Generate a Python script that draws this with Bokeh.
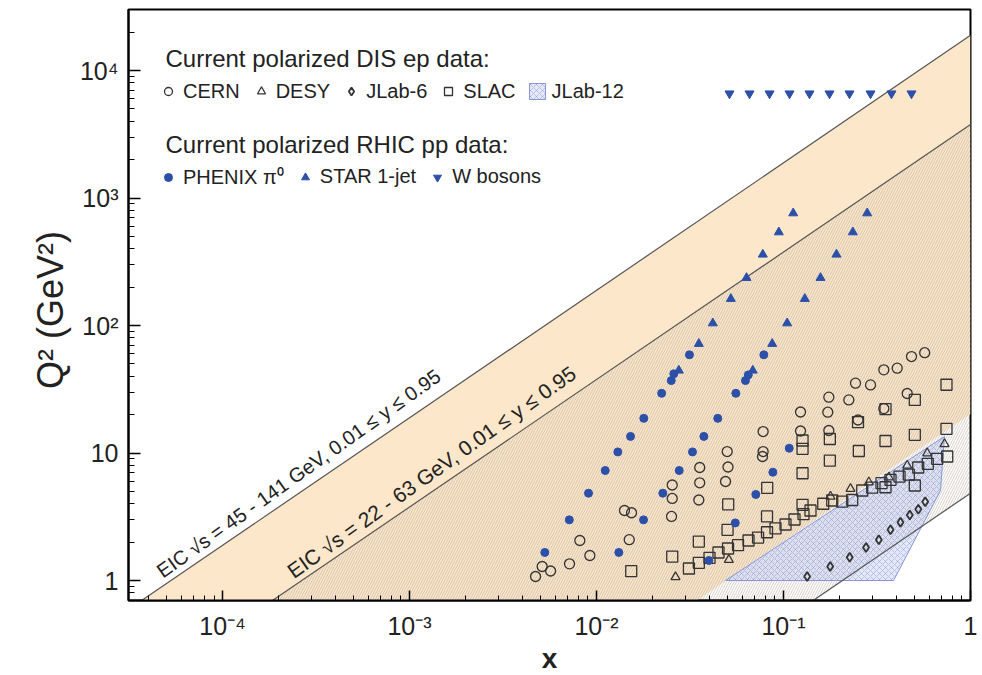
import math
from bokeh.plotting import figure
from bokeh.models import Label, Legend, LegendItem, FixedTicker, CustomJSTickFormatter
from bokeh.embed import file_html
from bokeh.resources import INLINE

FONT = "Liberation Sans"

# ---- EIC kinematic reach: sqrt(s) ranges and inelasticity limits ----
eic_high_sqrt_s = [45, 141]
eic_low_sqrt_s = [22, 63]
y_limits = [0.01, 0.95]

# ---- Current polarized DIS ep data ----
cern_x = [0.00472, 0.00512, 0.00568, 0.00717, 0.00814, 0.00921, 0.01411, 0.01539, 0.01496,
          0.02518, 0.0254, 0.0254, 0.03524, 0.03563, 0.03563, 0.04896, 0.05048, 0.04998,
          0.0778, 0.0772, 0.0778, 0.1233, 0.1233, 0.1747, 0.1725, 0.1747, 0.2235, 0.2503,
          0.2427, 0.292, 0.3439, 0.3439, 0.4055, 0.4586, 0.4836, 0.5689]
cern_q2 = [1.075, 1.288, 1.187, 1.352, 2.06, 1.571, 3.54, 3.40, 2.09,
           3.18, 4.40, 5.61, 4.28, 5.84, 7.70, 5.98, 7.77, 10.27,
           10.27, 9.39, 14.74, 14.88, 20.97, 15.02, 20.89, 27.4, 26.1, 18.15,
           35.3, 34.2, 44.9, 22.3, 46.3, 29.3, 57.1, 61.2]

slac_x = [0.744, 0.5037, 0.3511, 0.2503, 0.1769, 0.1264, 0.744, 0.5037, 0.3511, 0.2528,
          0.1769, 0.1264, 0.1264, 0.0818, 0.0506, 0.0816, 0.0502, 0.03524, 0.0254, 0.01533,
          0.5037, 0.3511, 0.1264,
          0.0312, 0.03524, 0.0402, 0.0449, 0.0505, 0.0571, 0.065, 0.0731, 0.0816, 0.0906,
          0.1025, 0.1145, 0.1279, 0.1394, 0.1631, 0.1822, 0.2061, 0.233, 0.2636, 0.298,
          0.3342, 0.3734, 0.4173, 0.4678, 0.5254, 0.591, 0.6637, 0.7508]
slac_q2 = [34.3, 26.1, 22.1, 17.5, 12.88, 12.53, 15.48, 13.89, 12.42, 10.37,
           8.73, 10.79, 6.94, 5.32, 3.95, 3.18, 2.50, 2.02, 1.542, 1.183,
           5.56, 5.39, 3.92,
           1.242, 1.377, 1.507, 1.658, 1.782, 1.898, 2.06, 2.17, 2.39, 2.56,
           2.75, 3.01, 3.32, 3.54, 4.00, 4.24, 4.16, 4.28, 5.08, 5.36,
           5.80, 6.16, 6.54, 6.78, 7.70, 8.23, 9.01, 9.39]

desy_x = [0.02645, 0.0510, 0.1784, 0.2282, 0.2859, 0.3657, 0.4586, 0.5867, 0.7261]
desy_q2 = [1.065, 1.453, 4.56, 5.24, 5.90, 6.46, 7.98, 9.96, 11.77]

jlab6_x = [0.1338, 0.1777, 0.2259, 0.2762, 0.3233, 0.3734, 0.4222, 0.4735, 0.5259, 0.5725]
jlab6_q2 = [1.075, 1.288, 1.523, 1.815, 2.09, 2.50, 2.87, 3.26, 3.62, 4.15]

jlab12_x = [0.049, 0.388, 0.691, 0.726]
jlab12_q2 = [1.0, 1.0, 5.08, 13.5]

# ---- Current polarized RHIC pp data ----
phenix_x = [0.00529, 0.00715, 0.00906, 0.01113, 0.0130, 0.0152, 0.0179, 0.0223, 0.0251, 0.0259, 0.0314,
            0.01316, 0.01784, 0.02262, 0.02768, 0.0326, 0.0375, 0.0445, 0.0556, 0.0626, 0.0648, 0.0785,
            0.0399, 0.0552, 0.0711, 0.0877, 0.1073]
phenix_q2 = [1.66, 2.99, 4.84, 7.29, 10.2, 13.5, 18.7, 29.4, 37.0, 41.8, 58.9,
             1.66, 2.99, 4.84, 7.29, 10.2, 13.5, 18.7, 29.4, 37.0, 41.0, 58.9,
             1.435, 2.83, 4.73, 7.07, 10.9]

star_x = [0.02755, 0.03524, 0.04186, 0.05226, 0.0634, 0.0775, 0.0944, 0.1127,
          0.0685, 0.0870, 0.1046, 0.1300, 0.1577, 0.1920, 0.2348, 0.2803]
star_q2 = [44.4, 71.9, 104.2, 162.0, 236.6, 360.6, 539.3, 760.0,
           44.4, 71.9, 104.2, 162.0, 236.6, 360.6, 539.3, 760.0]

w_x = [0.0514, 0.0658, 0.0842, 0.1077, 0.1377, 0.1762, 0.2254, 0.2920, 0.3780, 0.4836]
w_q2 = [6600] * 10

# ---- axes ----
x_lim = (3.14e-5, 1.0)
y_lim = (0.697, 30100)
x_ticks = [1e-4, 1e-3, 1e-2, 1e-1, 1]
y_ticks = [1, 10, 100, 1000, 10000]

FRAME_W, FRAME_H = 842, 591
p = figure(frame_width=FRAME_W, frame_height=FRAME_H, x_axis_type="log", y_axis_type="log",
           x_range=x_lim, y_range=y_lim, output_backend="svg", toolbar_location=None,
           min_border_left=128, min_border_right=10, min_border_top=9, min_border_bottom=66)
p.grid.visible = False
p.outline_line_color = "black"
p.outline_line_width = 2
p.background_fill_color = "white"

# ---- EIC bands ----
xa = 1e-6
cu_hi = y_limits[1] * eic_high_sqrt_s[1] ** 2
cl_hi = y_limits[0] * eic_high_sqrt_s[0] ** 2
cu_lo = y_limits[1] * eic_low_sqrt_s[1] ** 2
cl_lo = y_limits[0] * eic_low_sqrt_s[0] ** 2

p.patch([xa, 1, 1, xa], [cu_hi * xa, cu_hi, cl_hi, cl_hi * xa],
        fill_color="#fce7cb", line_color=None)
p.patch([xa, 1, 1, xa], [cu_lo * xa, cu_lo, cl_lo, cl_lo * xa],
        fill_alpha=0, line_color=None, hatch_pattern="/", hatch_color="#b0a08e",
        hatch_scale=5, hatch_weight=0.55, hatch_alpha=0.9)

r_jlab12 = p.patch(jlab12_x, jlab12_q2, fill_color="#c4cdf0", fill_alpha=0.45,
                   line_color="#8796d8", line_width=1, hatch_pattern="x",
                   hatch_color="#6f80d2", hatch_scale=6, hatch_weight=0.5, hatch_alpha=0.75)

for c in (cu_hi, cu_lo, cl_lo):
    p.line([xa, 1], [c * xa, c], line_color="#555555", line_width=1.2)

# ---- data markers ----
r_cern = p.scatter(cern_x, cern_q2, marker="circle", size=10, fill_color=None,
                   line_color="#333333", line_width=1.3)
r_slac = p.scatter(slac_x, slac_q2, marker="square", size=11, fill_color=None,
                   line_color="#333333", line_width=1.3)
r_desy = p.scatter(desy_x, desy_q2, marker="triangle", size=9, fill_color=None,
                   line_color="#333333", line_width=1.2)
r_jlab6 = p.scatter(jlab6_x, jlab6_q2, marker="diamond", size=9, fill_color=None,
                    line_color="#333333", line_width=1.8)
BLUE = "#2c4fa8"
r_phenix = p.scatter(phenix_x, phenix_q2, marker="circle", size=8, fill_color=BLUE, line_color=BLUE)
r_star = p.scatter(star_x, star_q2, marker="triangle", size=9, fill_color=BLUE, line_color=BLUE)
r_w = p.scatter(w_x, w_q2, marker="inverted_triangle", size=9, fill_color=BLUE, line_color=BLUE)

# ---- axes styling ----
fmt = CustomJSTickFormatter(code="""
const sup = {"-":"\u207b","0":"\u2070","1":"\u00b9","2":"\u00b2","3":"\u00b3","4":"\u2074",
             "5":"\u2075","6":"\u2076","7":"\u2077","8":"\u2078","9":"\u2079"};
const e = Math.round(Math.log10(tick));
if (e == 0) return "1";
if (e == 1) return "10";
return "10" + String(e).split("").map(c => sup[c]).join("");
""")
p.xaxis.ticker = FixedTicker(ticks=x_ticks,
                             minor_ticks=[m * 10.0 ** e for e in range(-5, 0) for m in range(2, 10)])
p.yaxis.ticker = FixedTicker(ticks=y_ticks,
                             minor_ticks=[m * 10.0 ** e for e in range(-1, 5) for m in range(2, 10)])
for ax in (p.xaxis[0], p.yaxis[0]):
    ax.formatter = fmt
    ax.axis_line_width = 2
    ax.major_tick_out = 0
    ax.minor_tick_out = 0
    ax.major_tick_line_width = 1.5
    ax.minor_tick_line_width = 1
    ax.major_label_text_font = FONT
    ax.major_label_text_font_size = "25px"
    ax.major_label_text_color = "#222222"
    ax.axis_label_text_font = FONT
    ax.axis_label_text_color = "#222222"
p.xaxis.major_tick_in = 10
p.xaxis.minor_tick_in = 5
p.yaxis.major_tick_in = 12
p.yaxis.minor_tick_in = 6
p.xaxis.major_label_standoff = 11
p.yaxis.major_label_standoff = 10
p.xaxis.axis_label = "x"
p.yaxis.axis_label = "Q\u00b2  (GeV\u00b2)"
p.xaxis.axis_label_text_font_size = "28px"
p.xaxis.axis_label_text_font_style = "bold"
p.yaxis.axis_label_text_font_size = "36px"
p.yaxis.axis_label_text_font_style = "normal"
p.xaxis.axis_label_standoff = 0
p.yaxis.axis_label_standoff = 6

# ---- EIC labels along the lines ----
ang = math.atan((FRAME_H / math.log10(y_lim[1] / y_lim[0])) /
                (FRAME_W / math.log10(x_lim[1] / x_lim[0])))
d = 13
for xs, c, txt, fs in ((5.0e-5, cu_hi, "EIC \u221as = 45 - 141 GeV, 0.01 \u2264 y \u2264 0.95", "20px"),
                       (2.5e-4, cu_lo, "EIC \u221as = 22 - 63 GeV, 0.01 \u2264 y \u2264 0.95", "21px")):
    p.add_layout(Label(x=xs, y=c * xs, text=txt, angle=ang + math.radians(1.2), text_align="left",
                       text_baseline="alphabetic", x_offset=-d * math.sin(ang),
                       y_offset=d * math.cos(ang), text_font=FONT, text_font_size=fs,
                       text_color="#222222"))

# ---- legend ----
for ytop, txt in ((542, "Current polarized DIS ep data:"), (456.5, "Current polarized RHIC pp data:")):
    p.add_layout(Label(x=37, y=ytop, x_units="screen", y_units="screen", text=txt,
                       text_baseline="middle", text_font=FONT, text_font_size="24px",
                       text_color="#222222"))

common = dict(orientation="horizontal", padding=0, margin=0, border_line_color=None,
              background_fill_alpha=0, glyph_width=20, glyph_height=20, label_height=24,
              label_standoff=5, spacing=11, label_text_font=FONT, label_text_font_size="20px",
              label_text_color="#222222")
leg1 = Legend(items=[LegendItem(label="CERN", renderers=[r_cern]),
                     LegendItem(label="DESY", renderers=[r_desy]),
                     LegendItem(label="JLab-6", renderers=[r_jlab6]),
                     LegendItem(label="SLAC", renderers=[r_slac]),
                     LegendItem(label="JLab-12", renderers=[r_jlab12])],
              location=(30, 497), **common)
leg2 = Legend(items=[LegendItem(label="PHENIX \u03c0\u2070", renderers=[r_phenix]),
                     LegendItem(label="STAR 1-jet", renderers=[r_star]),
                     LegendItem(label="W bosons", renderers=[r_w])],
              location=(30, 410), **common)
p.add_layout(leg1)
p.add_layout(leg2)

open("out.html", "w").write(file_html(p, INLINE))
